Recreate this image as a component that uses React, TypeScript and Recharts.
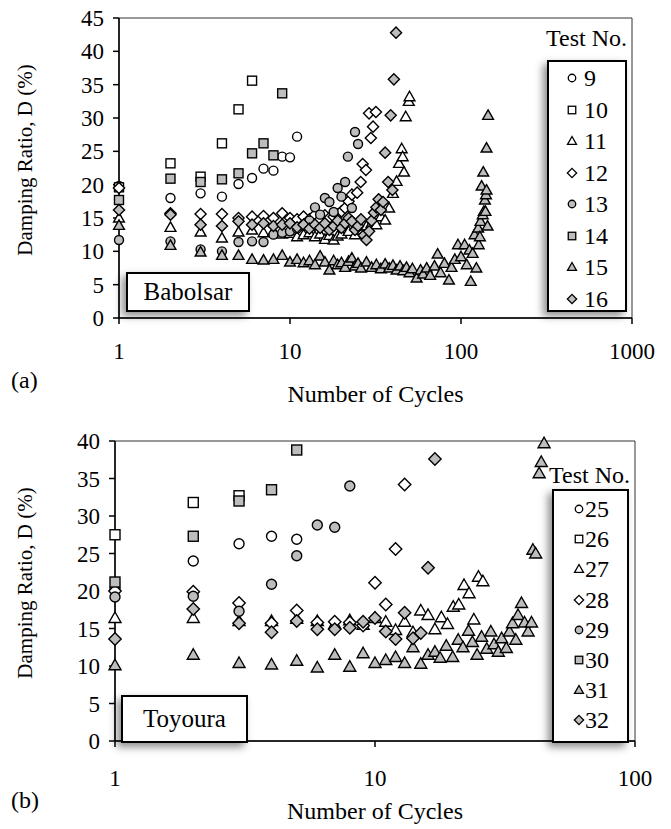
import React from "react";
import { ScatterChart, Scatter, XAxis, YAxis, ReferenceArea } from "recharts";

type Pt = [number, number];
type Kind = "circle" | "square" | "triangle" | "diamond";

// (a) Babolsar: [cycles, damping %]
const t9: Pt[] = [[1, 19.8], [2, 18.0], [3, 18.7], [4, 18.2], [5, 20.1], [6, 21.0], [7, 22.4], [8, 22.1], [9, 24.2], [10, 24.1], [11, 27.2]];
const t10: Pt[] = [[1, 19.6], [2, 23.2], [3, 21.2], [4, 26.2], [5, 31.3], [6, 35.6]];
const t11: Pt[] = [[1, 15.0], [2, 13.6], [3, 12.9], [4, 12.0], [5, 12.9], [6, 13.2], [7, 12.8], [8, 13.0], [9, 12.6], [10, 12.7], [11, 12.2], [12, 12.5], [13, 12.8], [14, 12.2], [15, 12.6], [16, 11.8], [17, 12.4], [18, 11.7], [19, 12.3], [20, 12.6], [22, 13.0], [24, 12.5], [26, 13.2], [28, 13.8], [30, 14.2], [32, 14.0], [34, 15.2], [36, 14.7], [38, 16.5], [40, 18.7], [42, 20.5], [43.4, 23.2], [45, 25.4], [46.4, 21.9], [45.6, 24.2], [47.5, 30.2], [49.5, 32.5], [50, 33.2]];
const t12: Pt[] = [[1, 19.5], [2, 15.7], [3, 15.6], [4, 15.6], [5, 15.0], [6, 15.2], [7, 15.3], [8, 15.0], [9, 15.7], [10, 15.0], [11, 14.8], [12, 15.2], [13, 14.8], [14, 15.5], [15, 14.8], [16, 15.4], [17, 15.0], [18, 15.2], [19, 15.5], [20, 16.0], [21, 16.5], [22, 17.5], [23, 18.5], [24.7, 18.8], [25.9, 20.4], [26.6, 23.1], [27.8, 22.2], [29.7, 27.0], [30.6, 28.7], [29, 30.7], [31.8, 30.9]];
const t13: Pt[] = [[1, 11.7], [2, 11.5], [3, 10.3], [4, 10.0], [5, 11.4], [6, 11.5], [7, 11.4], [8, 12.5], [9, 12.8], [10, 13.0], [11, 13.4], [12, 13.8], [13, 14.6], [14, 16.6], [15, 15.5], [16, 18.0], [17, 17.4], [18, 15.9], [19, 19.5], [20, 18.2], [21, 20.4], [21.8, 24.2], [23, 16.5], [24, 27.9], [25, 26.1]];
const t14: Pt[] = [[1, 17.7], [2, 20.9], [3, 20.4], [4, 20.8], [5, 21.7], [6, 24.7], [7, 26.2], [8, 24.4], [9, 33.7]];
const t15: Pt[] = [[1, 13.9], [2, 10.9], [3, 9.9], [4, 9.4], [5, 9.4], [6, 8.8], [7, 8.7], [8, 8.8], [9, 9.4], [10, 8.4], [11, 8.8], [12, 8.3], [13, 8.6], [14, 8.0], [15, 9.3], [16, 8.4], [17, 7.2], [18, 8.6], [19, 8.0], [20, 8.3], [21, 7.6], [22, 8.5], [23, 9.0], [24, 7.8], [25, 8.2], [26, 7.5], [28, 8.4], [30, 7.6], [32, 8.0], [34, 7.4], [36, 8.1], [38, 7.5], [40, 7.9], [42, 7.2], [44, 7.8], [46, 7.1], [48, 7.6], [50, 6.8], [52, 7.4], [55, 6.0], [58, 7.2], [60, 6.6], [63, 7.5], [66, 6.4], [70, 7.8], [73, 9.6], [76, 6.8], [80, 8.2], [85, 5.7], [88, 7.6], [92, 8.8], [96, 11.0], [100, 9.2], [105, 11.0], [108, 8.0], [112, 10.2], [114, 5.5], [117, 9.7], [120, 12.5], [123, 7.5], [126, 13.5], [127, 11.0], [129, 12.2], [130, 14.5], [132, 19.8], [134, 15.5], [135, 21.9], [136, 16.0], [138, 17.7], [139, 16.0], [140, 18.5], [141, 19.2], [143, 13.8], [141, 25.5], [144, 30.4]];
const t16: Pt[] = [[1, 16.2], [2, 15.5], [3, 14.0], [4, 13.8], [5, 14.5], [6, 14.0], [7, 14.2], [8, 13.8], [9, 14.0], [10, 14.2], [11, 13.6], [12, 14.0], [13, 13.4], [14, 14.0], [15, 13.5], [16, 14.2], [17, 13.2], [18, 13.8], [19, 14.6], [20, 13.5], [21, 14.2], [22, 15.0], [23, 14.5], [24, 13.2], [25, 13.8], [26, 14.8], [27, 12.4], [28, 11.7], [29, 13.0], [30, 14.6], [31, 15.8], [32, 16.6], [33, 17.8], [34, 16.2], [35, 17.4], [36, 24.8], [37.5, 20.4], [38.8, 30.4], [39.7, 19.2], [40.5, 35.8], [41.7, 42.8]];

// (b) Toyoura
const t25: Pt[] = [[1, 20.3], [2, 24.0], [3, 26.3], [4, 27.3], [5, 26.9]];
const t26: Pt[] = [[1, 27.5], [2, 31.8], [3, 32.7]];
const t27: Pt[] = [[1, 16.4], [2, 16.4], [3, 16.0], [4, 16.0], [5, 16.3], [6, 16.0], [7, 15.6], [8, 16.1], [9, 15.5], [10, 16.4], [11, 15.9], [12, 14.8], [13, 15.9], [14, 14.5], [15, 17.4], [16, 16.8], [17, 14.9], [18, 16.5], [19, 15.6], [20, 17.9], [21, 18.2], [22, 20.8], [23, 19.7], [24, 16.2], [25, 21.9], [26, 21.3]];
const t28: Pt[] = [[1, 20.0], [2, 19.9], [3, 18.4], [4, 15.7], [5, 17.4], [6, 15.8], [7, 15.9], [8, 15.8], [9, 15.4], [10, 21.1], [11, 18.2], [12, 25.6], [13, 34.2]];
const t29: Pt[] = [[1, 19.2], [2, 19.3], [3, 17.3], [4, 20.9], [5, 24.7], [6, 28.8], [7, 28.5], [8, 34.0]];
const t30: Pt[] = [[1, 21.2], [2, 27.3], [3, 32.0], [4, 33.5], [5, 38.8]];
const t31: Pt[] = [[1, 10.1], [2, 11.5], [3, 10.4], [4, 10.2], [5, 10.7], [6, 9.8], [7, 11.5], [8, 9.9], [9, 11.7], [10, 10.4], [11, 10.8], [12, 11.2], [13, 10.4], [14, 12.5], [15, 10.3], [16, 11.5], [17, 11.9], [17.8, 11.1], [18.8, 12.7], [19.9, 11.2], [20.9, 13.5], [21.8, 12.5], [22.9, 14.7], [23.7, 13.2], [24.7, 11.5], [25.7, 13.9], [26.9, 12.3], [27.9, 14.6], [28.7, 12.9], [29.8, 11.9], [30.7, 13.7], [32, 12.4], [32.9, 14.6], [33.8, 15.7], [34.8, 13.5], [35.5, 16.8], [36.6, 18.4], [37.6, 15.8], [38.8, 14.6], [40, 15.8], [40.5, 25.5], [41.5, 25.0], [42.8, 35.7], [43.6, 37.2], [44.7, 39.7]];
const t32: Pt[] = [[1, 13.6], [2, 17.6], [3, 15.7], [4, 14.5], [5, 16.0], [6, 14.9], [7, 14.9], [8, 15.1], [9, 15.9], [10, 16.4], [11, 14.6], [12, 13.6], [13, 17.1], [14, 13.7], [15, 14.4], [16, 23.1], [17, 37.6]];

const ticksA = [1, 10, 100, 1000];
const ticksB = [1, 10, 100];
const yTicksA = [0, 5, 10, 15, 20, 25, 30, 35, 40, 45];
const yTicksB = [0, 5, 10, 15, 20, 25, 30, 35, 40];

const FONT = '"Liberation Serif", "Times New Roman", Tinos, serif';
const GRAY = "#bdbdbd";

type Series = { name: string; kind: Kind; filled: boolean; pts: Pt[] };

const seriesA: Series[] = [
  { name: "9", kind: "circle", filled: false, pts: t9 },
  { name: "10", kind: "square", filled: false, pts: t10 },
  { name: "11", kind: "triangle", filled: false, pts: t11 },
  { name: "12", kind: "diamond", filled: false, pts: t12 },
  { name: "13", kind: "circle", filled: true, pts: t13 },
  { name: "14", kind: "square", filled: true, pts: t14 },
  { name: "15", kind: "triangle", filled: true, pts: t15 },
  { name: "16", kind: "diamond", filled: true, pts: t16 },
];

const seriesB: Series[] = [
  { name: "25", kind: "circle", filled: false, pts: t25 },
  { name: "26", kind: "square", filled: false, pts: t26 },
  { name: "27", kind: "triangle", filled: false, pts: t27 },
  { name: "28", kind: "diamond", filled: false, pts: t28 },
  { name: "29", kind: "circle", filled: true, pts: t29 },
  { name: "30", kind: "square", filled: true, pts: t30 },
  { name: "31", kind: "triangle", filled: true, pts: t31 },
  { name: "32", kind: "diamond", filled: true, pts: t32 },
];

function Marker({ cx, cy, kind, filled, s, sw = 1.4 }: { cx: number; cy: number; kind: Kind; filled: boolean; s: number; sw?: number }) {
  const p = { fill: filled ? GRAY : "#fff", stroke: "#000", strokeWidth: sw };
  if (kind === "circle") return <circle cx={cx} cy={cy} r={s / 2} {...p} />;
  if (kind === "square") return <rect x={cx - s / 2} y={cy - s / 2} width={s} height={s} {...p} />;
  if (kind === "triangle") {
    const w = s * 0.6;
    return <polygon points={`${cx},${cy - s * 0.6} ${cx + w},${cy + s * 0.45} ${cx - w},${cy + s * 0.45}`} {...p} />;
  }
  const d = s * 0.62;
  return <polygon points={`${cx},${cy - d} ${cx + d},${cy} ${cx},${cy + d} ${cx - d},${cy}`} {...p} />;
}

const tickStyle = { fontFamily: FONT, fontSize: 23, fill: "#000" };
const shadow = "-4px 4px 8px rgba(0,0,0,0.45)";

// rotated y-axis title, sitting slightly above the plot's middle like the original
function YTitle(props: any) {
  const vb = props.viewBox || {};
  const x = 25;
  const y = vb.y + vb.height / 2 - 8;
  return (
    <text x={x} y={y} transform={`rotate(-90, ${x}, ${y})`} textAnchor="middle" dominantBaseline="central" fontFamily={FONT} fontSize={21} fill="#000">
      Damping Ratio, D (%)
    </text>
  );
}

function LegendBox({ series, left, top, width, height, first, step, mx, tx }: {
  series: Series[]; left: number; top: number; width: number; height: number; first: number; step: number; mx: number; tx: number;
}) {
  return (
    <div style={{ position: "absolute", left, top, width, height, boxSizing: "border-box", border: "2px solid #000", background: "#fff", boxShadow: shadow }}>
      {series.map((s, i) => (
        <div key={s.name} style={{ position: "absolute", left: 0, top: first + i * step - 14, height: 28, width: "100%" }}>
          <svg width={width} height={28} style={{ position: "absolute", left: 0, top: 0 }}>
            <Marker cx={mx} cy={14} kind={s.kind} filled={s.filled} s={7.5} sw={1.3} />
          </svg>
          <span style={{ position: "absolute", left: tx, top: 0, fontFamily: FONT, fontSize: 24, lineHeight: "28px" }}>{s.name}</span>
        </div>
      ))}
    </div>
  );
}

function Panel({ series, ticks, yTicks, xMax, yMax, width, height, margin, yAxisW, xAxisH, tickMargin, labelOffset, s }: {
  series: Series[]; ticks: number[]; yTicks: number[]; xMax: number; yMax: number; width: number; height: number;
  margin: { top: number; right: number; left: number; bottom: number }; yAxisW: number; xAxisH: number; tickMargin: number; labelOffset: number; s: number;
}) {
  return (
    <ScatterChart width={width} height={height} margin={margin}>
      <ReferenceArea x1={1} x2={xMax} y1={0} y2={yMax} fill="none" stroke="#333" strokeWidth={1} ifOverflow="visible" />
      <XAxis
        dataKey="x"
        type="number"
        scale="log"
        domain={[1, xMax]}
        ticks={ticks}
        height={xAxisH}
        tickSize={6}
        tickMargin={tickMargin}
        tick={tickStyle}
        axisLine={{ stroke: "#000", strokeWidth: 1.5 }}
        tickLine={{ stroke: "#000", strokeWidth: 1.5 }}
        label={{ value: "Number of Cycles", position: "insideTop", offset: labelOffset, style: { fontFamily: FONT, fontSize: 24, fill: "#000" } }}
      />
      <YAxis
        dataKey="y"
        type="number"
        domain={[0, yMax]}
        ticks={yTicks}
        width={yAxisW}
        tickSize={6}
        tickMargin={9}
        tick={tickStyle}
        axisLine={{ stroke: "#000", strokeWidth: 1.5 }}
        tickLine={{ stroke: "#000", strokeWidth: 1.5 }}
        label={YTitle}
      />
      {series.map((ser) => (
        <Scatter
          key={ser.name}
          name={ser.name}
          data={ser.pts.map(([x, y]) => ({ x, y }))}
          isAnimationActive={false}
          shape={(p: any) => <Marker cx={p.cx} cy={p.cy} kind={ser.kind} filled={ser.filled} s={s} />}
        />
      ))}
    </ScatterChart>
  );
}

const textStyle: React.CSSProperties = { position: "absolute", fontFamily: FONT, fontSize: 24, lineHeight: "28px", color: "#000", whiteSpace: "nowrap" };

export default function App() {
  return (
    <div style={{ position: "absolute", left: 0, top: 0, width: 671, height: 829, background: "#fff", overflow: "hidden" }}>
      <div style={{ position: "absolute", left: 0, top: 0 }}>
        <Panel
          series={seriesA}
          ticks={ticksA}
          yTicks={yTicksA}
          xMax={1000}
          yMax={45}
          width={671}
          height={420}
          margin={{ top: 18, right: 39, left: 0, bottom: 0 }}
          yAxisW={119}
          xAxisH={102}
          tickMargin={19}
          labelOffset={67}
          s={9}
        />
      </div>
      <div style={{ position: "absolute", left: 0, top: 420 }}>
        <Panel
          series={seriesB}
          ticks={ticksB}
          yTicks={yTicksB}
          xMax={100}
          yMax={40}
          width={671}
          height={409}
          margin={{ top: 21, right: 36, left: 0, bottom: 0 }}
          yAxisW={115}
          xAxisH={88}
          tickMargin={23}
          labelOffset={61}
          s={10}
        />
      </div>

      <div style={{ ...textStyle, right: 671 - 627, top: 24 }}>Test No.</div>
      <LegendBox series={seriesA} left={547} top={60} width={80} height={252} first={16} step={31.5} mx={23} tx={35} />
      <div style={{ position: "absolute", left: 126, top: 272, width: 124, height: 40, boxSizing: "border-box", border: "2px solid #000", background: "#fff", boxShadow: shadow, fontFamily: FONT, fontSize: 25, lineHeight: "36px", textAlign: "center" }}>Babolsar</div>
      <div style={{ ...textStyle, left: 11, top: 366 }}>(a)</div>

      <div style={{ ...textStyle, right: 671 - 630, top: 461 }}>Test No.</div>
      <LegendBox series={seriesB} left={552} top={489} width={77} height={254} first={18} step={30.2} mx={25} tx={31} />
      <div style={{ position: "absolute", left: 121, top: 695, width: 127, height: 48, boxSizing: "border-box", border: "2px solid #000", background: "#fff", boxShadow: shadow, fontFamily: FONT, fontSize: 25, lineHeight: "44px", textAlign: "center" }}>Toyoura</div>
      <div style={{ ...textStyle, left: 11, top: 786 }}>(b)</div>
    </div>
  );
}
